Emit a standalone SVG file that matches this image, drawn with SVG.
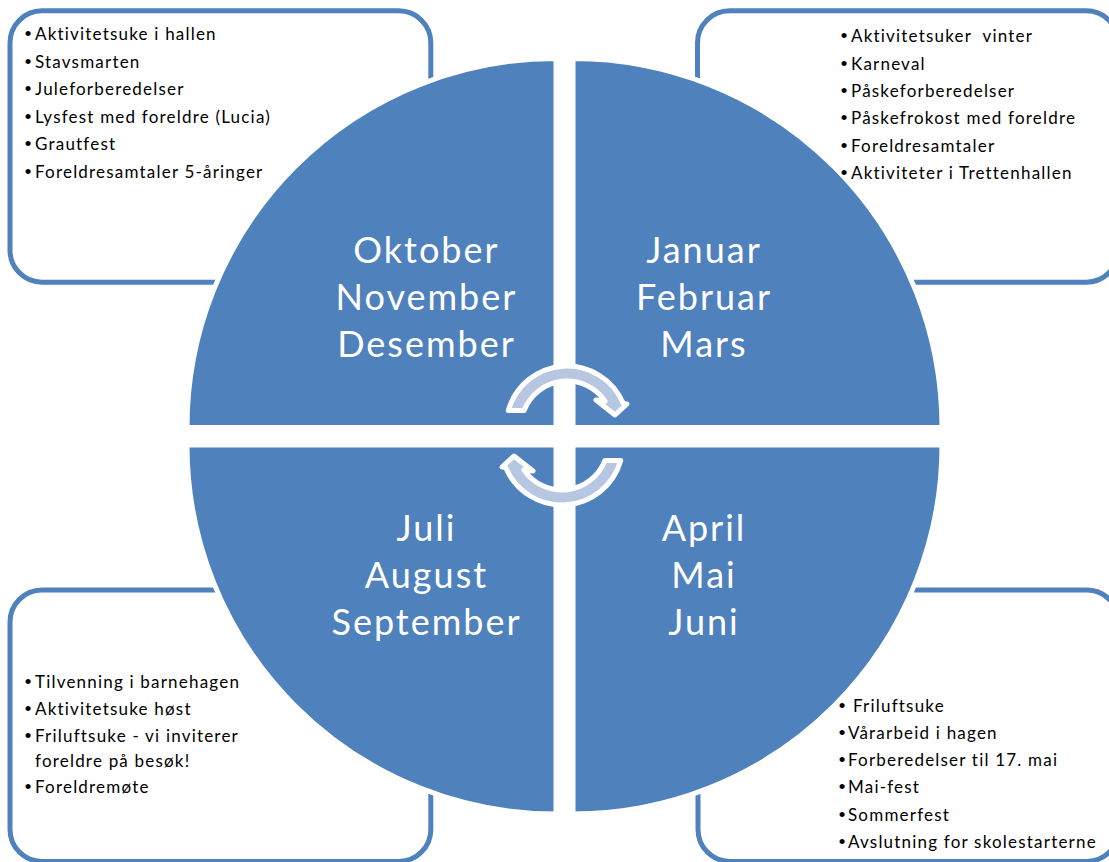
<svg xmlns="http://www.w3.org/2000/svg" width="1109" height="862" viewBox="0 0 1109 862">
<style>
.box{fill:#ffffff;stroke:#4f81bd;stroke-width:5}
.q{fill:#4f81bd;stroke:#ffffff;stroke-width:5}
.big{font-family:Lato,"Open Sans","Liberation Sans",sans-serif;font-size:36px;letter-spacing:2px;fill:#ffffff;text-anchor:middle}
.item{font-family:Lato,"Liberation Sans",sans-serif;font-size:17px;letter-spacing:1.2px;fill:#000000}
.bul{font-family:"Liberation Sans",sans-serif;font-size:19px;fill:#000000;text-anchor:middle}
.arr{fill:#b8c7e1;stroke:#ffffff;stroke-width:5;stroke-linejoin:round}
</style>
<rect width="1109" height="862" fill="#ffffff"/>
<g id="box-okt-des"><rect class="box" x="10" y="10.8" width="420.8" height="271.4" rx="32"/></g>
<g id="box-jan-mar"><rect class="box" x="697.5" y="10.8" width="420.8" height="271.4" rx="32"/></g>
<g id="box-jul-sep"><rect class="box" x="10" y="590" width="420.8" height="271.4" rx="32"/></g>
<g id="box-apr-jun"><rect class="box" x="698" y="590" width="420.8" height="271.4" rx="32"/></g>

<g id="q-okt-des">
<path class="q" d="M556,427.5 L187,427.5 A369,369 0 0 1 556,58.5 Z"/>
<text class="big" x="426.5" y="263">Oktober</text>
<text class="big" x="426.5" y="310">November</text>
<text class="big" x="426.5" y="357">Desember</text>
</g>
<g id="q-jan-mar">
<path class="q" d="M573,427.5 L573,58.5 A369,369 0 0 1 942,427.5 Z"/>
<text class="big" x="704" y="263">Januar</text>
<text class="big" x="704" y="310">Februar</text>
<text class="big" x="704" y="357">Mars</text>
</g>
<g id="q-apr-jun">
<path class="q" d="M573,445 L942,445 A369,369 0 0 1 573,814 Z"/>
<text class="big" x="704" y="541">April</text>
<text class="big" x="704" y="588">Mai</text>
<text class="big" x="704" y="635">Juni</text>
</g>
<g id="q-jul-sep">
<path class="q" d="M556,445 L556,814 A369,369 0 0 1 187,445 Z"/>
<text class="big" x="426.5" y="541">Juli</text>
<text class="big" x="426.5" y="588">August</text>
<text class="big" x="426.5" y="635">September</text>
</g>

<g id="connectors">
<path id="arrow-top" class="arr" d="M508.3,410.5 A61,61 0 0 1 623.3,403.5 L627,404 L615,415 L596,400 L605.1,401.2 A46,46 0 0 0 524.1,410.5 Z"/>
<path id="arrow-bottom" class="arr" transform="rotate(180 564.5 435.5)" d="M508.3,410.5 A61,61 0 0 1 623.3,403.5 L627,404 L615,415 L596,400 L605.1,401.2 A46,46 0 0 0 524.1,410.5 Z"/>
</g>

<g id="list-okt-des">
<text class="bul" x="28" y="40">•</text><text class="item" x="35" y="40">Aktivitetsuke i hallen</text>
<text class="bul" x="28" y="68">•</text><text class="item" x="35" y="68">Stavsmarten</text>
<text class="bul" x="28" y="95">•</text><text class="item" x="35" y="95">Juleforberedelser</text>
<text class="bul" x="28" y="123">•</text><text class="item" x="35" y="123">Lysfest med foreldre (Lucia)</text>
<text class="bul" x="28" y="150">•</text><text class="item" x="35" y="150">Grautfest</text>
<text class="bul" x="28" y="178">•</text><text class="item" x="35" y="178">Foreldresamtaler 5-åringer</text>
</g>
<g id="list-jan-mar">
<text class="bul" x="844" y="42">•</text><text class="item" x="851" y="42" xml:space="preserve">Aktivitetsuker  vinter</text>
<text class="bul" x="844" y="69.5">•</text><text class="item" x="851" y="69.5">Karneval</text>
<text class="bul" x="844" y="97">•</text><text class="item" x="851" y="97">Påskeforberedelser</text>
<text class="bul" x="844" y="124">•</text><text class="item" x="851" y="124">Påskefrokost med foreldre</text>
<text class="bul" x="844" y="151.5">•</text><text class="item" x="851" y="151.5">Foreldresamtaler</text>
<text class="bul" x="844" y="179">•</text><text class="item" x="851" y="179">Aktiviteter i Trettenhallen</text>
</g>
<g id="list-jul-sep">
<text class="bul" x="28" y="688">•</text><text class="item" x="35" y="688">Tilvenning i barnehagen</text>
<text class="bul" x="28" y="715">•</text><text class="item" x="35" y="715">Aktivitetsuke høst</text>
<text class="bul" x="28" y="742">•</text><text class="item" x="35" y="742">Friluftsuke - vi inviterer</text>
<text class="item" x="35" y="767">foreldre på besøk!</text>
<text class="bul" x="28" y="793">•</text><text class="item" x="35" y="793">Foreldremøte</text>
</g>
<g id="list-apr-jun">
<text class="bul" x="842" y="712">•</text><text class="item" x="853" y="712">Friluftsuke</text>
<text class="bul" x="842" y="739">•</text><text class="item" x="848" y="739">Vårarbeid i hagen</text>
<text class="bul" x="842" y="766">•</text><text class="item" x="848" y="766">Forberedelser til 17. mai</text>
<text class="bul" x="842" y="793">•</text><text class="item" x="848" y="793">Mai-fest</text>
<text class="bul" x="842" y="821">•</text><text class="item" x="848" y="821">Sommerfest</text>
<text class="bul" x="842" y="848">•</text><text class="item" x="848" y="848">Avslutning for skolestarterne</text>
</g>
</svg>
